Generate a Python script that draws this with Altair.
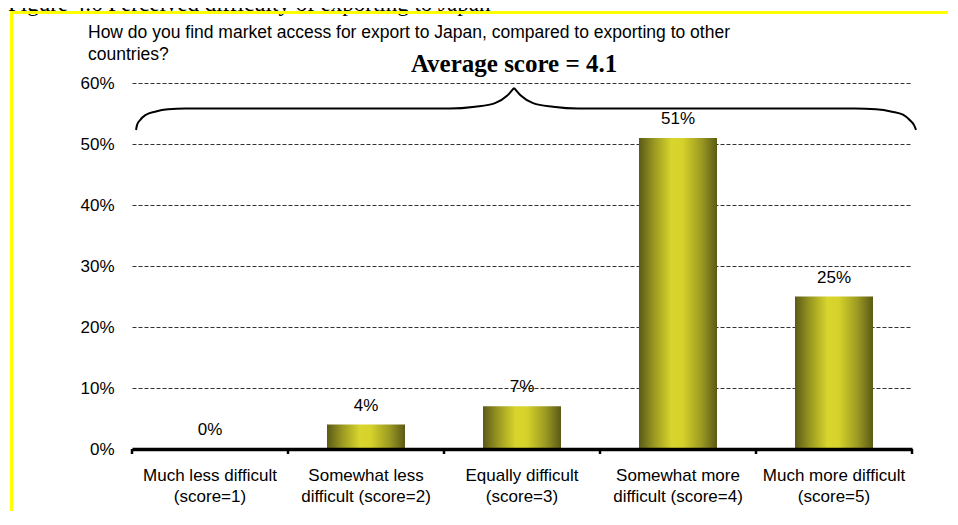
import altair as alt
import pandas as pd

# ---- data ----
categories = [
    "Much less difficult|(score=1)",
    "Somewhat less|difficult (score=2)",
    "Equally difficult|(score=3)",
    "Somewhat more|difficult (score=4)",
    "Much more difficult|(score=5)",
]
shares = [0, 4, 7, 51, 25]
value_labels = ["0%", "4%", "7%", "51%", "25%"]
y_ticks = [0, 10, 20, 30, 40, 50, 60]
boundary_ticks = [0, 1, 2, 3, 4, 5]

figure_title = "Figure 4.6 Perceived difficulty of exporting to Japan"
question = "How do you find market access for export to Japan, compared to exporting to other\ncountries?"
average_text = "Average score = 4.1"
average_pos = [2.449, 61.8]

# brace outline (x in category units, y in %)
brace_left_x = [0.026, 0.032, 0.051, 0.090, 0.147, 0.231, 0.340, 2.038, 2.199, 2.327, 2.404, 2.449]
brace_left_y = [52.3, 53.1, 53.9, 54.8, 55.3, 55.7, 55.8, 55.8, 56.1, 56.7, 57.9, 59.2]
brace_right_x = [2.449, 2.494, 2.571, 2.699, 2.859, 4.635, 4.769, 4.872, 4.942, 4.987, 5.013, 5.026]
brace_right_y = [59.2, 57.9, 56.7, 56.1, 55.8, 55.8, 55.7, 55.3, 54.8, 53.9, 53.1, 52.3]

SANS = "Liberation Sans"
SERIF = "Liberation Serif"

bars_df = pd.DataFrame({"category": categories, "share": shares, "label": value_labels})
brace_df = pd.DataFrame({
    "x": brace_left_x + brace_right_x,
    "y": brace_left_y + brace_right_y,
    "side": ["left"] * len(brace_left_x) + ["right"] * len(brace_right_x),
})
ticks_df = pd.DataFrame({"x": boundary_ticks})
avg_df = pd.DataFrame({"x": [average_pos[0]], "y": [average_pos[1]], "t": [average_text]})
q_df = pd.DataFrame({"t": [question]})
fig_df = pd.DataFrame({"t": [figure_title]})

y_scale = alt.Scale(domain=[0, 60], nice=False, zero=True)
xq_scale = alt.Scale(domain=[0, 5], nice=False, zero=False)
band_scale = alt.Scale(paddingInner=0.5, paddingOuter=0.25)

x_band = alt.X(
    "category:N",
    sort=categories,
    scale=band_scale,
    axis=alt.Axis(
        title=None,
        labelAngle=0,
        labelExpr="split(datum.label, '|')",
        labelFont=SANS,
        labelFontSize=17,
        labelColor="black",
        labelLineHeight=21,
        labelPadding=18,
        ticks=False,
        domainColor="black",
        domainWidth=3.5,
        zindex=1,
    ),
)

gradient = alt.LinearGradient(
    gradient="linear",
    x1=0, x2=1, y1=0, y2=0,
    stops=[
        alt.GradientStop(color="#5b5a17", offset=0),
        alt.GradientStop(color="#9c9a22", offset=0.2),
        alt.GradientStop(color="#d9d52d", offset=0.42),
        alt.GradientStop(color="#d6d22b", offset=0.56),
        alt.GradientStop(color="#9c9a22", offset=0.8),
        alt.GradientStop(color="#5b5a17", offset=1),
    ],
)

bars = alt.Chart(bars_df).mark_bar(color=gradient).encode(
    x=x_band,
    y=alt.Y(
        "share:Q",
        scale=y_scale,
        axis=alt.Axis(
            title=None,
            values=y_ticks,
            labelExpr="datum.value + '%'",
            labelFont=SANS,
            labelFontSize=17,
            labelColor="black",
            labelPadding=18,
            domain=False,
            ticks=False,
            grid=True,
            gridDash=[4, 2],
            gridColor="#333333",
            gridWidth=1,
        ),
    ),
)

value_text = alt.Chart(bars_df).mark_text(
    font=SANS, fontSize=17, color="black", baseline="alphabetic", dy=-14
).encode(
    x=alt.X("category:N", sort=categories, scale=band_scale),
    y=alt.Y("share:Q", scale=y_scale),
    text="label:N",
)

bar_layer = alt.layer(bars, value_text)

brace = alt.Chart(brace_df).mark_line(
    color="black", strokeWidth=2, interpolate="monotone"
).encode(
    x=alt.X("x:Q", scale=xq_scale, axis=None),
    y=alt.Y("y:Q", scale=y_scale),
    detail="side:N",
)

ticks = alt.Chart(ticks_df).mark_rule(color="black", strokeWidth=2.5).encode(
    x=alt.X("x:Q", scale=xq_scale, axis=None),
    y=alt.value(366),
    y2=alt.value(371),
)

avg = alt.Chart(avg_df).mark_text(
    font=SERIF, fontSize=25, fontWeight="bold", color="black", baseline="alphabetic", align="center"
).encode(
    x=alt.X("x:Q", scale=xq_scale, axis=None),
    y=alt.Y("y:Q", scale=y_scale),
    text="t:N",
)

question_text = alt.Chart(q_df).mark_text(
    font=SANS, fontSize=17.5, color="black", align="left", baseline="alphabetic",
    lineBreak="\n", lineHeight=22,
).encode(x=alt.value(-44), y=alt.value(-45), text="t:N")

fig_text = alt.Chart(fig_df).mark_text(
    font=SERIF, fontSize=23, color="black", align="left", baseline="alphabetic"
).encode(x=alt.value(-124), y=alt.value(-72), text="t:N")

frame_top = alt.Chart(fig_df).mark_rule(color="#ffff00", strokeWidth=3).encode(
    x=alt.value(-122), x2=alt.value(820), y=alt.value(-70.5)
)
frame_left = alt.Chart(fig_df).mark_rule(color="#ffff00", strokeWidth=3).encode(
    x=alt.value(-120.5), y=alt.value(-70.5), y2=alt.value(440)
)

chart = alt.layer(
    bar_layer, brace, ticks, avg, question_text, fig_text, frame_top, frame_left
).resolve_scale(x="independent").properties(
    width=780,
    height=366,
    autosize=alt.AutoSizeParams(type="none"),
    padding={"left": 124, "top": 75, "right": 36, "bottom": 62},
    background="white",
).configure_view(stroke=None)

chart.save("out.html", embed_options={"renderer": "svg", "actions": False})
